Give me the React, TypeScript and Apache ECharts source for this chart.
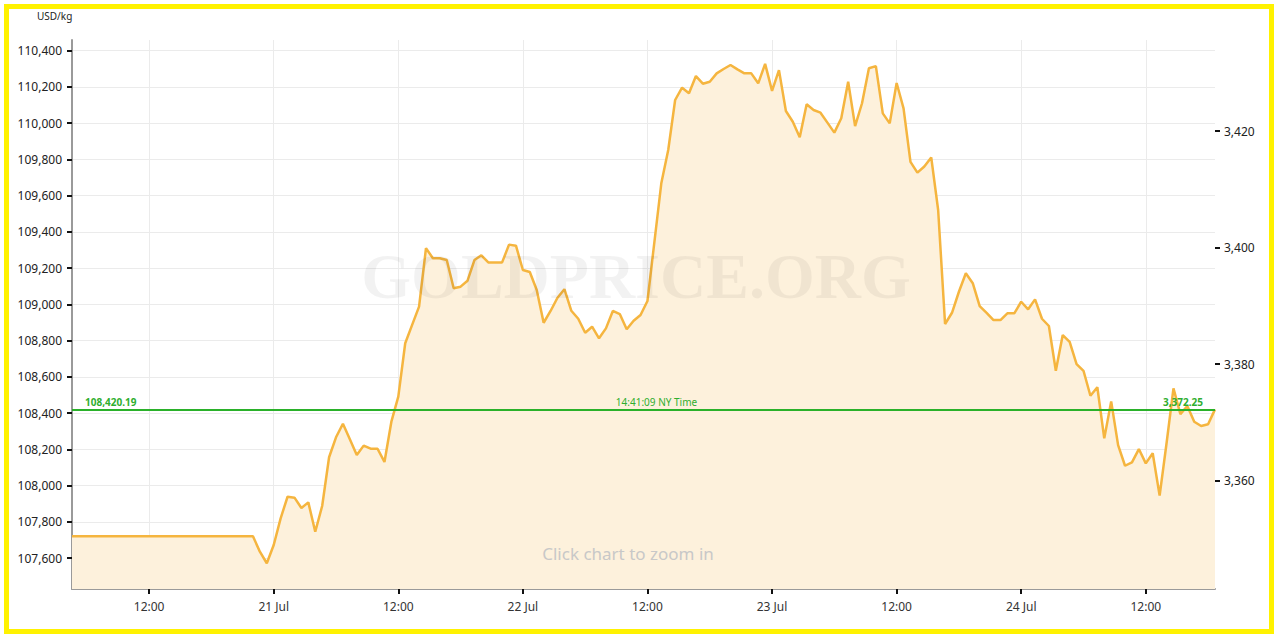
import React, { useEffect, useRef } from "react";
import * as echarts from "echarts";

// ---- data ----
const unitLabel = "USD/kg";
const watermarkText = "GOLDPRICE.ORG";
const hintText = "Click chart to zoom in";

// hours relative to 21 Jul 00:00
const weekendStartHour = -19.43;
const firstSampleHour = -2;
const sampleStepHours = 2 / 3; // 40-minute samples

const pricesKg = [
  107720, 107635, 107571, 107672, 107819, 107938, 107933, 107876, 107907, 107745,
  107887, 108156, 108266, 108341, 108255, 108168, 108220, 108203, 108203, 108130,
  108352, 108490, 108785, 108886, 108987, 109309, 109254, 109254, 109244, 109088,
  109097, 109130, 109244, 109270, 109231, 109231, 109231, 109329, 109323, 109189,
  109178, 109079, 108898, 108963, 109036, 109083, 108964, 108920, 108843, 108876,
  108812, 108867, 108963, 108946, 108862, 108909, 108941, 109018, 109343, 109667,
  109851, 110127, 110195, 110164, 110259, 110217, 110228, 110274, 110298, 110320,
  110296, 110274, 110274, 110219, 110326, 110177, 110292, 110066, 110007, 109921,
  110103, 110072, 110057, 110002, 109947, 110026, 110228, 109983, 110109, 110302,
  110314, 110053, 109998, 110221, 110081, 109786, 109726, 109760, 109810, 109520,
  108891, 108953, 109069, 109171, 109116, 108990, 108953, 108913, 108913, 108950,
  108950, 109014, 108972, 109027, 108920, 108880, 108633, 108830, 108792, 108670,
  108633, 108495, 108542, 108260, 108464, 108223, 108109, 108128, 108201, 108122,
  108178, 107944, 108233, 108536, 108394, 108439, 108352, 108328, 108338, 108420.19,
];

const currentPriceKg = 108420.19;
const currentPriceOz = 3372.25;
const currentTimeLabel = "14:41:09 NY Time";

const kgTicks = [
  107600, 107800, 108000, 108200, 108400, 108600, 108800, 109000, 109200, 109400,
  109600, 109800, 110000, 110200, 110400,
];
const ozTicks = [3360, 3380, 3400, 3420];
const xTickHours = [-12, 0, 12, 24, 36, 48, 60, 72, 84];
const xTickLabels = ["12:00", "21 Jul", "12:00", "22 Jul", "12:00", "23 Jul", "12:00", "24 Jul", "12:00"];

const yMinKg = 107429;
const yMaxKg = 110458;
const OZ_PER_KG = 32.1507466;

const FONT = "'Noto Sans', 'Open Sans', sans-serif";

function fmt(v: number, digits = 0) {
  return v.toLocaleString("en-US", { minimumFractionDigits: digits, maximumFractionDigits: digits });
}

export default function App() {
  const ref = useRef<HTMLDivElement>(null);

  useEffect(() => {
    document.body.style.margin = "0";
    if (!ref.current) return;
    const chart = echarts.init(ref.current, undefined, { renderer: "svg" });

    const seriesData: number[][] = [[weekendStartHour, pricesKg[0]]];
    pricesKg.forEach((v, i) => seriesData.push([firstSampleHour + i * sampleStepHours, v]));
    const xMax = firstSampleHour + (pricesKg.length - 1) * sampleStepHours;

    const greenText = "#2fae2f";
    const greenLine = "#27b127";

    chart.setOption({
      animation: false,
      backgroundColor: "#ffffff",
      textStyle: { fontFamily: FONT },
      grid: { left: 72, right: 65, top: 40, bottom: 49, containLabel: false, outerBoundsMode: "none" },
      xAxis: {
        type: "value",
        min: weekendStartHour,
        max: xMax,
        axisLine: { show: true, onZero: false, lineStyle: { color: "#9a9a9a", width: 2 } },
        axisTick: { show: true, length: 5, lineStyle: { color: "#111", width: 2 }, customValues: xTickHours },
        axisLabel: {
          show: true,
          customValues: xTickHours,
          margin: 11,
          fontSize: 12,
          color: "#333",
          fontFamily: FONT,
          formatter: (v: number) => {
            const i = xTickHours.findIndex((h) => Math.abs(h - v) < 1e-6);
            return i >= 0 ? xTickLabels[i] : "";
          },
        },
        splitLine: { show: true, lineStyle: { color: "#ebebeb", width: 1 } },
      },
      yAxis: [
        {
          type: "value",
          position: "left",
          min: yMinKg,
          max: yMaxKg,
          axisLine: { show: true, onZero: false, lineStyle: { color: "#9a9a9a", width: 2 } },
          axisTick: { show: true, length: 5, lineStyle: { color: "#111", width: 2 }, customValues: kgTicks },
          axisLabel: {
            customValues: kgTicks,
            margin: 10,
            fontSize: 12,
            color: "#222",
            fontFamily: FONT,
            formatter: (v: number) => fmt(v),
          },
          splitLine: { show: true, lineStyle: { color: "#ebebeb", width: 1 } },
        },
        {
          type: "value",
          position: "right",
          min: yMinKg / OZ_PER_KG,
          max: yMaxKg / OZ_PER_KG,
          axisLine: { show: false, onZero: false },
          axisTick: { show: true, length: 5, lineStyle: { color: "#111", width: 2 }, customValues: ozTicks },
          axisLabel: {
            customValues: ozTicks,
            margin: 9,
            fontSize: 12,
            color: "#222",
            fontFamily: FONT,
            formatter: (v: number) => fmt(v),
          },
          splitLine: { show: false },
        },
      ],
      graphic: [
        {
          type: "text",
          left: 37,
          top: 11,
          style: { text: unitLabel, fontSize: 10, fill: "#222", fontFamily: FONT },
        },
        {
          type: "text",
          x: 636,
          y: 276,
          z: 100,
          silent: true,
          style: {
            text: watermarkText,
            fontSize: 64,
            fontWeight: "bold",
            fontFamily: "'Liberation Serif', 'DejaVu Serif', serif",
            fill: "rgba(0,0,0,0.05)",
            align: "center",
            verticalAlign: "middle",
          },
        },
        {
          type: "text",
          x: 628,
          y: 553,
          z: 100,
          silent: true,
          style: {
            text: hintText,
            fontSize: 17,
            fontFamily: FONT,
            fill: "#c8c8c8",
            align: "center",
            verticalAlign: "middle",
          },
        },
      ],
      series: [
        {
          type: "line",
          data: seriesData,
          showSymbol: false,
          symbol: "none",
          lineStyle: { color: "#f5b53f", width: 2.5 },
          itemStyle: { color: "#f5b53f" },
          areaStyle: { color: "#fdf1dc", opacity: 1 },
          z: 2,
          markLine: {
            silent: true,
            symbol: ["none", "none"],
            animation: false,
            data: [
              {
                yAxis: currentPriceKg,
                lineStyle: { color: greenLine, width: 1.5, type: "solid" },
                label: {
                  show: true,
                  position: "insideStartTop",
                  formatter: fmt(currentPriceKg, 2),
                  color: greenText,
                  fontSize: 10,
                  fontWeight: "bold",
                  fontFamily: FONT,
                  distance: [13, 2],
                },
              },
              {
                yAxis: currentPriceKg,
                lineStyle: { color: greenLine, width: 1.5, type: "solid" },
                label: {
                  show: true,
                  position: "insideMiddleTop",
                  formatter: currentTimeLabel,
                  color: greenText,
                  fontSize: 10,
                  fontFamily: FONT,
                  distance: [0, 2],
                  padding: [0, 0, 0, 26],
                },
              },
              {
                yAxis: currentPriceKg,
                lineStyle: { color: greenLine, width: 1.5, type: "solid" },
                label: {
                  show: true,
                  position: "insideEndTop",
                  formatter: fmt(currentPriceOz, 2),
                  color: greenText,
                  fontSize: 10,
                  fontWeight: "bold",
                  fontFamily: FONT,
                  distance: [12, 2],
                },
              },
            ],
          },
        },
      ],
    });

    return () => chart.dispose();
  }, []);

  return (
    <div style={{ position: "relative", width: 1280, height: 638, background: "#fff" }}>
      <div ref={ref} style={{ position: "absolute", left: 0, top: 0, width: 1280, height: 638 }} />
      <div
        style={{
          position: "absolute",
          left: 4,
          top: 4,
          width: 1270,
          height: 630,
          boxSizing: "border-box",
          border: "5px solid #fff200",
          pointerEvents: "none",
        }}
      />
    </div>
  );
}
